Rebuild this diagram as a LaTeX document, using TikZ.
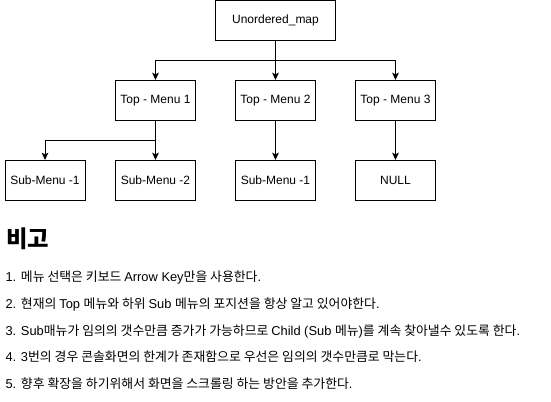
\documentclass[tikz,border=0pt]{standalone}
\usepackage{fontspec}
\setmainfont{Liberation Sans}
\newfontfamily\krfont{Noto Sans CJK KR}
\newcommand{\kr}[1]{{\krfont #1}}
\usetikzlibrary{arrows.meta}

\tikzset{every picture/.style={line width=0.75pt}}
\tikzset{
  menubox/.style={draw, minimum width=60pt, minimum height=30pt, inner sep=0pt, font=\fontsize{9}{11}\selectfont},
  arr/.style={-{Stealth[length=5.5pt,width=5pt,inset=1.3pt]}},
  note/.style={anchor=base west, inner sep=0pt, font=\fontsize{9.65}{11}\selectfont}
}

\begin{document}
\begin{tikzpicture}[x=0.75pt,y=0.75pt,yscale=-1,xscale=1]
\useasboundingbox (0,0) rectangle (551,401);

%Shape: Rectangle [map]
\draw (275.5,20.5) node [menubox, minimum width=90pt] (map) {Unordered\_map};
%Shape: Rectangle [top row]
\draw (155.5,100.5) node [menubox] (top1) {Top - Menu 1};
\draw (275.5,100.5) node [menubox] (top2) {Top - Menu 2};
\draw (395.5,100.5) node [menubox] (top3) {Top - Menu 3};
%Shape: Rectangle [sub row]
\draw (45,180.5) node [menubox] (sub11) {Sub-Menu -1};
\draw (155.5,180.5) node [menubox] (sub12) {Sub-Menu -2};
\draw (275.5,180.5) node [menubox] (sub21) {Sub-Menu -1};
\draw (395.5,180.5) node [menubox] (null3) {NULL};

%Straight Lines [bus]
\coordinate (busA) at (275.5,60.5);
\coordinate (busB) at (155.5,140.5);
\draw [arr] (map.south) -- (busA) -| (top1.north);
\draw [arr] (busA) -| (top3.north);
\draw [arr] (map.south) -- (top2.north);
\draw [arr] (top1.south) -- (busB) -| (sub11.north);
\draw [arr] (top1.south) -- (sub12.north);
\draw [arr] (top2.south) -- (sub21.north);
\draw [arr] (top3.south) -- (null3.north);

% Text Node
\draw (6,239) node [anchor=west, inner sep=0pt, font=\fontsize{17.5}{19}\selectfont\krfont\bfseries] (title) {비고};
% Text Node
\draw (5,281.5) node [note] (n1) {1. \kr{메뉴 선택은 키보드 }Arrow Key\kr{만을 사용한다}.};
% Text Node
\draw (5,308) node [note] (n2) {2. \kr{현재의 }Top \kr{메뉴와 하위 }Sub \kr{메뉴의 포지션을 항상 알고 있어야한다}.};
% Text Node
\draw (5,335) node [note] (n3) {3. Sub\kr{매뉴가 임의의 갯수만큼 증가가 가능하므로 }Child (Sub \kr{메뉴})\kr{를 계속 찾아낼수 있도록 한다}.};
% Text Node
\draw (5,361.5) node [note] (n4) {4. 3\kr{번의 경우 콘솔화면의 한계가 존재함으로 우선은 임의의 갯수만큼로 막는다}.};
% Text Node
\draw (5,388) node [note] (n5) {5. \kr{향후 확장을 하기위해서 화면을 스크롤링 하는 방안을 추가한다}.};

\end{tikzpicture}
\end{document}
